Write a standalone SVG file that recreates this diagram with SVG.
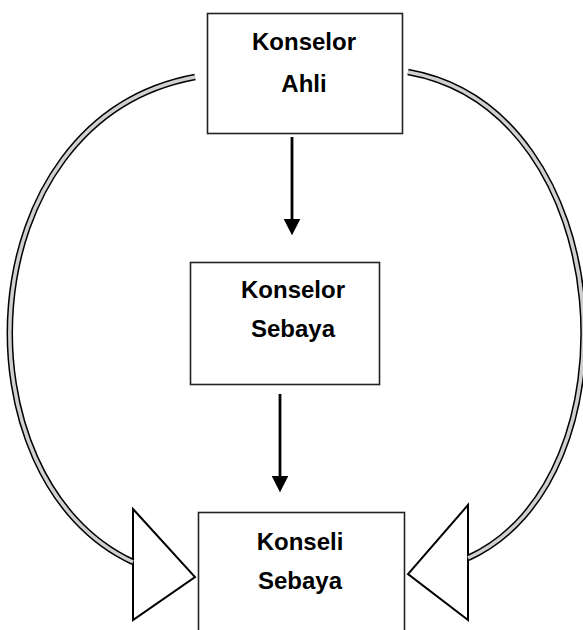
<svg xmlns="http://www.w3.org/2000/svg" width="583" height="630" viewBox="0 0 583 630">
<style>
.box{fill:#fff;stroke:#222;stroke-width:1.6}
.t{font-family:"Liberation Sans",Arial,sans-serif;font-weight:bold;font-size:24px;text-anchor:middle;fill:#000}
.bandO{fill:none;stroke:#000;stroke-width:6.5;stroke-linecap:butt}
.bandI{fill:none;stroke:#d0d0d0;stroke-width:3.5;stroke-linecap:butt}
.head{fill:#fff;stroke:#000;stroke-width:2;stroke-linejoin:miter}
.ln{stroke:#000;stroke-width:2.8;fill:none}
</style>
<defs>
<marker id="ah" markerWidth="6" markerHeight="6" refX="3" refY="3" orient="auto" markerUnits="strokeWidth" viewBox="0 0 6 6">
<path d="M0,0 L6,3 L0,6 Z" fill="#000"/>
</marker>
</defs>
<g id="connectors">
<line class="ln" x1="292" y1="137" x2="292" y2="227" marker-end="url(#ah)"/>
<line class="ln" x1="280" y1="394" x2="280" y2="484" marker-end="url(#ah)"/>
<g id="left-curve">
<polygon class="head" points="133,509 195,577 133,620"/>
<path class="bandO" d="M195,77 C -35,120 -45,480 133,562"/>
<path class="bandI" d="M195,77 C -35,120 -45,480 133,562"/>
</g>
<g id="right-curve">
<polygon class="head" points="468,505 408,574 468,620"/>
<path class="bandO" d="M408,72 C 620,110 640,480 468,558"/>
<path class="bandI" d="M408,72 C 620,110 640,480 468,558"/>
</g>
</g>
<g id="konselor-ahli">
<rect class="box" x="207.5" y="13.5" width="195" height="120"/>
<text class="t" x="304" y="50">Konselor</text>
<text class="t" x="304" y="92">Ahli</text>
</g>
<g id="konselor-sebaya">
<rect class="box" x="190.5" y="262.5" width="189" height="122"/>
<text class="t" x="293" y="298">Konselor</text>
<text class="t" x="293" y="337">Sebaya</text>
</g>
<g id="konseli-sebaya">
<rect class="box" x="198.5" y="512.5" width="206" height="125"/>
<text class="t" x="300" y="550">Konseli</text>
<text class="t" x="300" y="589">Sebaya</text>
</g>
</svg>
